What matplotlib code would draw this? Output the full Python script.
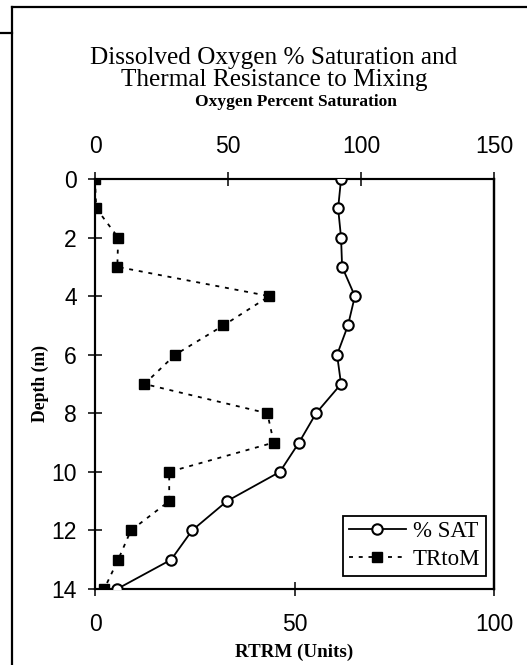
import matplotlib
matplotlib.use("Agg")
import matplotlib.pyplot as plt
from matplotlib.lines import Line2D

# Depth profile data
depth_m = [0, 1, 2, 3, 4, 5, 6, 7, 8, 9, 10, 11, 12, 13, 14]
pct_sat = [92.5, 91.4, 92.5, 92.9, 97.7, 95.1, 91.0, 92.5, 83.1, 76.7, 69.5, 49.6, 36.5, 28.6, 8.3]
rtrm = [0, 0.3, 5.8, 5.6, 43.7, 32.2, 20.1, 12.4, 43.2, 44.8, 18.6, 18.6, 9.0, 5.8, 2.3]

depth_ticks = [0, 2, 4, 6, 8, 10, 12, 14]
rtrm_ticks = [0, 50, 100]
sat_ticks = [0, 50, 100, 150]

W, H = 527, 665
fig = plt.figure(figsize=(W / 100, H / 100), dpi=100)

sans = "Liberation Sans"
serif = "Liberation Serif"

# page frame lines
frame_kw = dict(color="black", lw=1.6, transform=fig.transFigure, clip_on=False)
fig.add_artist(Line2D([12 / W, 1.0], [1 - 7 / H, 1 - 7 / H], **frame_kw))
fig.add_artist(Line2D([12 / W, 12 / W], [0, 1 - 7 / H], **frame_kw))
fig.add_artist(Line2D([0, 12 / W], [1 - 33 / H, 1 - 33 / H], **frame_kw))

left, right, top, bottom = 95, 494, 179, 589
ax = fig.add_axes([left / W, 1 - bottom / H, (right - left) / W, (bottom - top) / H])
ax2 = ax.twiny()

dash = (0, (2.2, 3.2))

# RTRM on the bottom axis
ax.plot(rtrm, depth_m, color="black", lw=1.3, linestyle=dash,
        marker="s", markersize=6.5, markerfacecolor="black", markeredgecolor="black",
        label="TRtoM", zorder=3)
# Oxygen saturation on the top axis
ax2.plot(pct_sat, depth_m, color="black", lw=1.3, linestyle="-",
         marker="o", markersize=7.5, markerfacecolor="white", markeredgecolor="black",
         markeredgewidth=1.5, label="% SAT", zorder=4)

ax.set_ylim(14, 0)
ax.set_xlim(0, 100)
ax2.set_xlim(0, 150)
ax.set_yticks(depth_ticks)
ax.set_xticks(rtrm_ticks)
ax2.set_xticks(sat_ticks)

for a in (ax, ax2):
    for s in a.spines.values():
        s.set_linewidth(1.5)
    a.spines["right"].set_linestyle((0, (1, 1)))
    a.spines["right"].set_linewidth(1.6)
    a.patch.set_visible(False)

ax.tick_params(axis="y", direction="inout", length=10, width=1.1, pad=8,
               labelsize=16.5, labelfontfamily=sans)
ax.tick_params(axis="x", direction="inout", length=10, width=1.1, pad=12,
               labelsize=16.5, labelfontfamily=sans)
ax2.tick_params(axis="x", direction="inout", length=10, width=1.1, pad=10,
                labelsize=16.5, labelfontfamily=sans)

ax.set_ylabel("Depth (m)", fontfamily=serif, fontweight="bold", fontsize=12.7, labelpad=2)
fig.text(294 / W, 1 - 652 / H, "RTRM (Units)", ha="center", va="center",
         fontfamily=serif, fontweight="bold", fontsize=13.7)
fig.text(296 / W, 1 - 102 / H, "Oxygen Percent Saturation", ha="center", va="center",
         fontfamily=serif, fontweight="bold", fontsize=12.5)
fig.text(274 / W, 1 - 58 / H, "Dissolved Oxygen % Saturation and", ha="center", va="center",
         fontfamily=serif, fontsize=18.2)
fig.text(274 / W, 1 - 80 / H, "Thermal Resistance to Mixing", ha="center", va="center",
         fontfamily=serif, fontsize=18.2)

# legend
h_sat = Line2D([], [], color="black", lw=1.3, marker="o", markersize=7.5,
               markerfacecolor="white", markeredgecolor="black", markeredgewidth=1.5)
h_tr = Line2D([], [], color="black", lw=1.3, linestyle=dash, marker="s",
              markersize=6.5, markerfacecolor="black")
leg = ax2.legend([h_sat, h_tr], ["% SAT", "TRtoM"], loc="lower right",
                 bbox_to_anchor=(486 / W, 1 - 576 / H), bbox_transform=fig.transFigure,
                 prop={"family": serif, "size": 16.5}, frameon=True, fancybox=False,
                 edgecolor="black", framealpha=1, handlelength=2.5, handletextpad=0.3,
                 borderpad=0.25, labelspacing=0.3, borderaxespad=0)
leg.get_frame().set_linewidth(1.3)

fig.savefig("out.png", dpi=100)
